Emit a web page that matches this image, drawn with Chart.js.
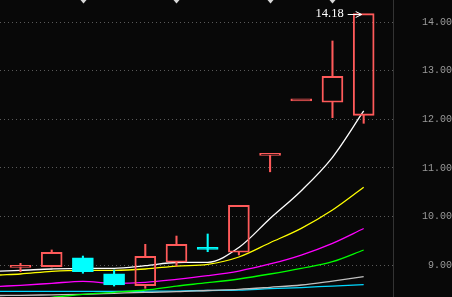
<!DOCTYPE html>
<html>
<head>
<meta charset="utf-8">
<script src="https://cdn.jsdelivr.net/npm/chart.js@4.4.1/dist/chart.umd.min.js"></script>
<style>
  html, body { margin: 0; padding: 0; background: #080808; }
  #wrap { width: 452px; height: 297px; }
</style>
</head>
<body>
<div id="wrap"><canvas id="kChart"></canvas></div>
<script>
// Candle values
const openVals  = [8.95, 8.965, 9.15, 8.82, 8.574, 9.056, 9.323, 9.262, 11.26, 12.38, 12.352, 12.084];
const closeVals = [8.98, 9.26, 8.862, 8.588, 9.18, 9.426, 9.323, 10.23, 11.26, 12.38, 12.888, 14.18];
const highVals  = [9.035, 9.31, 9.185, 8.897, 9.426, 9.597, 9.639, 10.23, 11.26, 12.38, 13.615, 14.18];
const lowVals   = [8.862, 8.96, 8.83, 8.567, 8.52, 8.979, 9.274, 9.206, 10.92, 12.38, 12.035, 11.919];

// Moving averages: first reading is at the left edge, then one per candle
const maPos = [-0.657, 0, 1, 2, 3, 4, 5, 6, 7, 8, 9, 10, 11];
const maWhite   = [8.876, 8.891, 8.918, 8.932, 8.932, 8.986, 9.052, 9.056, 9.361, 9.958, 10.531, 11.219, 12.173];
const maYellow  = [8.794, 8.815, 8.870, 8.891, 8.891, 8.918, 8.979, 9.014, 9.165, 9.459, 9.756, 10.133, 10.601];
const maMagenta = [8.561, 8.582, 8.623, 8.664, 8.623, 8.644, 8.705, 8.780, 8.876, 9.021, 9.206, 9.447, 9.752];
const maGreen   = [8.279, 8.300, 8.335, 8.396, 8.438, 8.485, 8.567, 8.635, 8.712, 8.815, 8.932, 9.068, 9.309];
const maGray    = [8.372, 8.376, 8.386, 8.396, 8.417, 8.438, 8.450, 8.475, 8.499, 8.541, 8.588, 8.670, 8.759];
const maCyan    = [8.458, 8.458, 8.458, 8.458, 8.458, 8.460, 8.464, 8.475, 8.481, 8.512, 8.536, 8.567, 8.594];

// Axis ticks, marked candles at the top, and the labelled high
const yTicks = [9, 10, 11, 12, 13, 14];
const markIdx = [2, 5, 8, 10];
const peakIdx = 11;
const peakVal = 14.18;

const RED = '#ff5a5a';
const CYAN = '#00ffff';

// up candle red, down candle cyan, flat compares with previous close
function candleColor(i) {
    if (closeVals[i] > openVals[i]) return RED;
    if (closeVals[i] < openVals[i]) return CYAN;
    if (i > 0 && closeVals[i] < closeVals[i - 1]) return CYAN;
    return RED;
}

const colors = openVals.map((v, i) => candleColor(i));
const bodyData = openVals.map((o, i) => ({ x: i, y: [o, closeVals[i]] }));
const upperWick = openVals.map((o, i) => {
    const top = Math.max(o, closeVals[i]);
    return { x: i, y: highVals[i] > top ? [top, highVals[i]] : null };
});
const lowerWick = openVals.map((o, i) => {
    const bot = Math.min(o, closeVals[i]);
    return { x: i, y: lowVals[i] < bot ? [lowVals[i], bot] : null };
});

function maLine(values, color) {
    return {
        type: 'line',
        data: values.map((v, i) => ({ x: maPos[i], y: v })),
        borderColor: color,
        borderWidth: 1.3,
        pointRadius: 0,
        cubicInterpolationMode: 'monotone',
        order: 5
    };
}

// Draws the small markers at the top and the "14.18 ->" label
const extrasPlugin = {
    id: 'extras',
    afterDatasetsDraw(chart) {
        const ctx = chart.ctx;
        const xs = chart.scales.x;
        const ys = chart.scales.y;
        const top = chart.chartArea.top;

        ctx.save();
        ctx.fillStyle = '#d8d8d8';
        markIdx.forEach(i => {
            const px = Math.round(xs.getPixelForValue(i)) + 0.5;
            ctx.beginPath();
            ctx.moveTo(px - 3, top);
            ctx.lineTo(px + 3, top);
            ctx.lineTo(px, top + 3.5);
            ctx.closePath();
            ctx.fill();
        });

        const tipX = xs.getPixelForValue(peakIdx) - 2;
        const tipY = Math.round(ys.getPixelForValue(peakVal)) + 0.5;
        ctx.strokeStyle = '#ffffff';
        ctx.lineWidth = 1;
        ctx.beginPath();
        ctx.moveTo(tipX - 14, tipY);
        ctx.lineTo(tipX, tipY);
        ctx.moveTo(tipX - 6, tipY - 3);
        ctx.lineTo(tipX, tipY);
        ctx.lineTo(tipX - 6, tipY + 3);
        ctx.stroke();

        ctx.fillStyle = '#ffffff';
        ctx.font = '12.5px "Liberation Serif"';
        ctx.textAlign = 'right';
        ctx.textBaseline = 'middle';
        ctx.fillText(peakVal.toFixed(2), tipX - 18, tipY - 1);
        ctx.restore();
    }
};

const chart = new Chart(document.getElementById('kChart'), {
    type: 'bar',
    data: {
        datasets: [
            maLine(maWhite, '#ffffff'),
            maLine(maYellow, '#ffff00'),
            maLine(maMagenta, '#ff00ff'),
            maLine(maGreen, '#00ff00'),
            maLine(maGray, '#c0c0c0'),
            maLine(maCyan, '#00d8ff'),
            {
                data: upperWick,
                backgroundColor: colors,
                barThickness: 1.4,
                grouped: false,
                order: 2
            },
            {
                data: lowerWick,
                backgroundColor: colors,
                barThickness: 1.4,
                grouped: false,
                order: 2
            },
            {
                data: bodyData,
                backgroundColor: colors.map(c => c === RED ? 'rgba(0,0,0,0)' : c),
                borderColor: colors,
                borderWidth: 1.3,
                borderSkipped: false,
                barThickness: 21,
                minBarLength: 2,
                grouped: false,
                order: 1
            }
        ]
    },
    options: {
        responsive: true,
        maintainAspectRatio: false,
        animation: false,
        layout: { padding: 0, autoPadding: false },
        plugins: {
            legend: { display: false },
            tooltip: { enabled: false }
        },
        scales: {
            x: {
                type: 'linear',
                display: false,
                offset: false,
                min: -0.657,
                max: 11.94
            },
            y: {
                position: 'right',
                min: 8.341,
                max: 14.459,
                afterBuildTicks: scale => {
                    scale.ticks = yTicks.map(v => ({ value: v }));
                },
                afterFit: scale => {
                    // keep the plot running to the edges of the canvas
                    scale.width = 59;
                    scale.paddingTop = 0;
                    scale.paddingBottom = 0;
                    scale.paddingLeft = 0;
                    scale.paddingRight = 0;
                },
                grid: {
                    color: '#5a5a5a',
                    drawTicks: false
                },
                border: {
                    display: true,
                    color: '#333333',
                    width: 1,
                    dash: [1, 3]
                },
                ticks: {
                    color: '#9a9a9a',
                    font: { family: '"Liberation Mono"', size: 10 },
                    padding: 18,
                    crossAlign: 'far',
                    callback: v => Number(v).toFixed(2)
                }
            }
        }
    },
    plugins: [extrasPlugin]
});
</script>
</body>
</html>
